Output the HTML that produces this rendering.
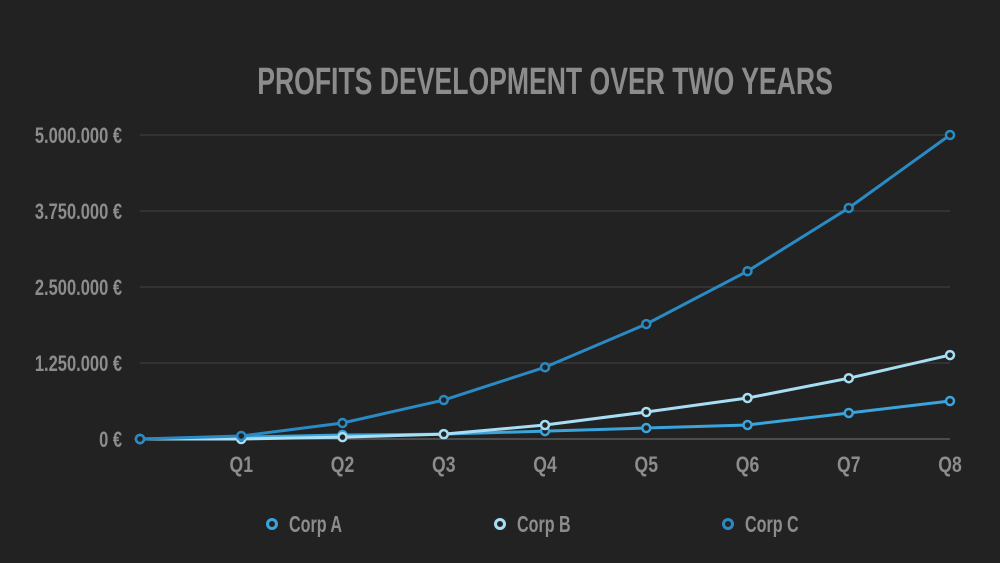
<!DOCTYPE html>
<html><head><meta charset="utf-8"><style>
body{margin:0;background:#222222;}
svg{display:block;font-family:"Liberation Sans Narrow","Liberation Sans",sans-serif;}
</style></head><body>
<svg id="chart" width="1000" height="563" viewBox="0 0 1000 563" xmlns="http://www.w3.org/2000/svg">
<rect width="1000" height="563" fill="#222222"/>
<text x="0" y="94" fill="#8c8c8c" font-size="38" font-weight="bold" text-anchor="middle" transform="translate(545,0) scale(0.7,1)">PROFITS DEVELOPMENT OVER TWO YEARS</text>
<g id="grid"></g><g id="series"></g><g id="legend"></g>
</svg>
<script>
const categories=["","Q1","Q2","Q3","Q4","Q5","Q6","Q7","Q8"];
const corpA=[0,30000,65000,80000,130000,180000,230000,428000,625000];
const corpB=[0,0,30000,80000,230000,444000,674000,1000000,1380000];
const corpC=[0,50000,263000,641000,1180000,1890000,2760000,3800000,5000000];
const yTicks=[0,1250000,2500000,3750000,5000000];
const yTickLabels=["0 €","1.250.000 €","2.500.000 €","3.750.000 €","5.000.000 €"];
const seriesNames=["Corp A","Corp B","Corp C"];
const NS="http://www.w3.org/2000/svg";
const x=i=>140+i*(950-140)/8;
const y=v=>439-v*(439-135)/5000000;
function mk(t,a,p){const e=document.createElementNS(NS,t);for(const k in a)e.setAttribute(k,a[k]);p.appendChild(e);return e;}
const grid=document.getElementById('grid');
yTicks.forEach((v,i)=>{
  const l=mk('line',{x1:140,x2:950,y1:y(v),y2:y(v),stroke:i==0?'#777':'#444','stroke-width':1},grid);
  
  
  const t=mk('text',{x:0,y:y(v)+8,fill:'#8c8c8c','font-size':22,'font-weight':'bold','text-anchor':'end',transform:`translate(122,0) scale(0.75,1)`},grid);
  t.textContent=yTickLabels[i];
  
  
});
categories.forEach((c,i)=>{
  if(!c)return;
  const t=mk('text',{x:0,y:472,fill:'#8c8c8c','font-size':22,'font-weight':'bold','text-anchor':'middle',transform:`translate(${x(i)},0) scale(0.8,1)`},grid);
  t.textContent=c;
  
  
});
const colors=["#3aa4dc","#a8def4","#2a8ac4"];
const data=[corpA,corpB,corpC];
const sg=document.getElementById('series');
[0,1,2].forEach(s=>{
  const g=mk('g',{},sg);
  
  
  mk('polyline',{points:data[s].map((v,i)=>x(i)+','+y(v)).join(' '),fill:'none',stroke:colors[s],'stroke-width':3},g);
  data[s].forEach((v,i)=>{
    const c=mk('circle',{cx:x(i),cy:y(v),r:4,fill:'#222',stroke:colors[s],'stroke-width':2.5},g);
    
    
  });
});
const lg=document.getElementById('legend');
const lx=[272,500,728];
seriesNames.forEach((n,s)=>{
  const g=mk('g',{},lg);
  
  
  mk('circle',{cx:lx[s],cy:524,r:4.5,fill:'#222',stroke:colors[s],'stroke-width':3},g);
  const t=mk('text',{x:0,y:532,fill:'#8c8c8c','font-size':23,'font-weight':'bold',transform:`translate(${lx[s]+17},0) scale(0.7,1)`},g);
  t.textContent=n;
});
</script>
</body></html>
